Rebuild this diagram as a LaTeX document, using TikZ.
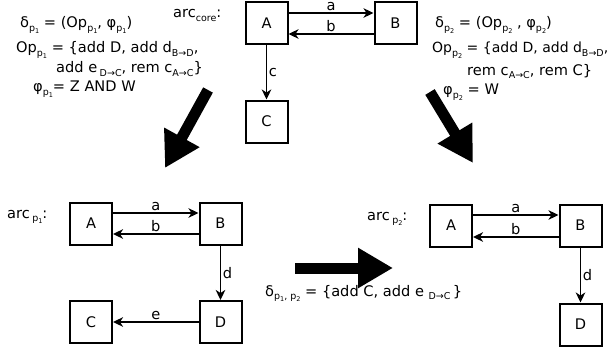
\documentclass[tikz,border=0pt]{standalone}
\usepackage{fontspec}
\setmainfont{DejaVu Sans}
\usetikzlibrary{arrows.meta}
\newcommand\sbx[1]{\raisebox{-0.45ex}{\fontsize{9.5}{9.5}\selectfont #1}}
\newcommand\ssbx[1]{\raisebox{-0.35ex}{\fontsize{6.5}{6.5}\selectfont #1}}
\newcommand\pone{\sbx{p\ssbx{1}}}
\newcommand\ptwo{\sbx{p\ssbx{2}}}
\begin{document}
\begin{tikzpicture}[x=1pt,y=-1pt,
  every node/.style={font=\fontsize{14.6}{17}\selectfont},
  box/.style={draw,line width=2pt,minimum size=42pt,inner sep=0pt},
  conn/.style={line width=1.8pt,-{Stealth[length=10pt,width=9.5pt,inset=3pt]}},
  lbl/.style={inner sep=1.5pt},
  txt/.style={anchor=base west,inner sep=0pt},
  big/.style={line width=11pt,-{Triangle[length=35pt,width=38pt]}}]
\useasboundingbox (0,0) rectangle (608,353);
% core
\node[box] (A0) at (266.5,23) {A};
\node[box] (B0) at (395.5,23) {B};
\node[box] (C0) at (266.5,121.5) {C};
\draw[conn] ([yshift=10pt]A0.east) -- node[lbl,above]{a} ([yshift=10pt]B0.west);
\draw[conn] ([yshift=-11pt]B0.west) -- node[lbl,above]{b} ([yshift=-11pt]A0.east);
\draw[conn] (A0.south) -- node[lbl,right]{c} (C0.north);
\node[txt] (arc0) at (173,18) {arc\sbx{core}:};
% left text
\node[txt] (l1) at (20,28) {δ\pone\ = (Op\pone, φ\pone)};
\node[txt] (l2) at (16,53) {Op\pone\ = \{add D, add d\sbx{B→D},};
\node[txt] (l3) at (56,73) {add e\,\sbx{D→C}, rem c\sbx{A→C}\}};
\node[txt] (l4) at (33,92) {φ\pone= Z AND W};
% right text
\node[txt] (r1) at (435,28) {δ\ptwo\ = (Op\ptwo\ , φ\ptwo)};
\node[txt,font=\fontsize{14}{17}\selectfont] (r2) at (432,53) {Op\ptwo\ = \{add D, add d\sbx{B→D},};
\node[txt] (r3) at (467,75) {rem c\sbx{A→C}, rem C\}};
\node[txt] (r4) at (443,95) {φ\ptwo\ = W};
% bottom left
\node[box] (A1) at (91,223.5) {A};
\node[box] (B1) at (220.5,223.5) {B};
\node[box] (C1) at (91,322) {C};
\node[box] (D1) at (220.5,322) {D};
\draw[conn] ([yshift=10.5pt]A1.east) -- node[lbl,above]{a} ([yshift=10.5pt]B1.west);
\draw[conn] ([yshift=-10.5pt]B1.west) -- node[lbl,above]{b} ([yshift=-10.5pt]A1.east);
\draw[conn] (B1.south) -- node[lbl,right]{d} (D1.north);
\draw[conn] (D1.west) -- node[lbl,above]{e} (C1.east);
\node[txt] (arc1) at (7,218) {arc\,\pone:};
% bottom right
\node[box] (A2) at (451,225.5) {A};
\node[box] (B2) at (580.5,225.5) {B};
\node[box] (D2) at (580.5,324.5) {D};
\draw[conn] ([yshift=10.5pt]A2.east) -- node[lbl,above]{a} ([yshift=10.5pt]B2.west);
\draw[conn] ([yshift=-11.5pt]B2.west) -- node[lbl,above]{b} ([yshift=-11.5pt]A2.east);
\draw[conn] (B2.south) -- node[lbl,right]{d} (D2.north);
\node[txt] (arc2) at (367,220) {arc\,\ptwo:};
% delta
\node[txt] (dl) at (265,296) {δ\sbx{p\ssbx{1}, p\ssbx{2}} = \{add C, add e \sbx{D→C}\,\}};
% big arrows
\coordinate (g1s) at (208,90); \coordinate (g1e) at (165,168);
\coordinate (g2s) at (430,92); \coordinate (g2e) at (473,163);
\coordinate (g3s) at (295,268); \coordinate (g3e) at (393,268);
\draw[big] (g1s) -- (g1e);
\draw[big] (g2s) -- (g2e);
\draw[big] (g3s) -- (g3e);
\end{tikzpicture}
\end{document}
